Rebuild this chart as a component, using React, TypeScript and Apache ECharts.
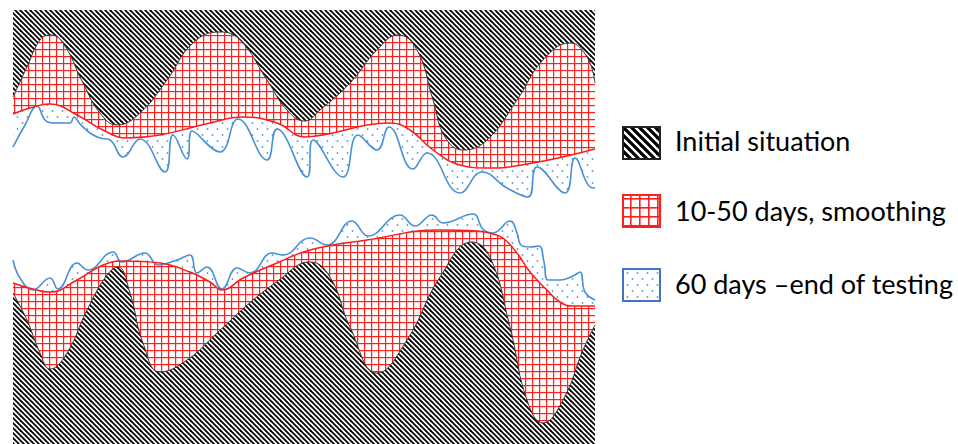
import * as echarts from 'echarts';
import { useEffect, useRef } from 'react';

const legendLabels = ['Initial situation', '10-50 days, smoothing', '60 days \u2013end of testing'];

// profiles as [position along the sample, depth from the upper edge]
const upperInitial = [
  [13, 97], [27, 67], [40, 40], [50, 35], [63, 43], [83, 83], [100, 113], [117, 125], [140, 113],
  [167, 80], [193, 43], [220, 32], [240, 40], [267, 80], [287, 110], [305, 121], [320, 110],
  [350, 83], [377, 50], [398, 35], [417, 50], [433, 100], [445, 137], [463, 150], [487, 140],
  [517, 100], [543, 60], [570, 43], [587, 57], [595, 83],
];
const upperSmoothed = [
  [13, 114], [30, 108], [50, 104], [77, 115], [103, 130], [127, 138], [160, 135], [210, 123],
  [243, 117], [277, 123], [305, 137], [333, 133], [367, 125], [390, 123], [410, 130], [433, 150],
  [460, 165], [487, 168], [533, 163], [595, 149],
];
const upperEnd = [
  [13, 147], [25, 125], [37, 106], [45, 120], [53, 123], [70, 123], [74, 117], [80, 124], [90, 133],
  [100, 138], [110, 140], [123, 157], [140, 139], [165, 172], [173, 135], [187, 159], [192, 131],
  [220, 152], [238, 119], [267, 160], [277, 129], [307, 177], [313, 140], [343, 177], [358, 135],
  [377, 150], [389, 127], [413, 169], [427, 153], [460, 193], [482, 172], [507, 188], [528, 197],
  [537, 167], [565, 193], [575, 158], [590, 187], [595, 188],
];

const lowerInitial = [
  [13, 293], [27, 320], [40, 353], [50, 369], [67, 353], [87, 310], [107, 275], [118, 267],
  [130, 293], [143, 343], [160, 372], [187, 360], [217, 333], [253, 300], [283, 277], [300, 264],
  [310, 262], [330, 277], [350, 327], [377, 373], [407, 340], [440, 277], [472, 242], [490, 257],
  [510, 327], [527, 400], [543, 423], [563, 400], [583, 350], [595, 325],
];
const lowerSmoothed = [
  [13, 283], [33, 289], [50, 292], [77, 280], [103, 265], [123, 261], [160, 263], [190, 272],
  [210, 282], [222, 290], [243, 278], [277, 263], [310, 250], [367, 240], [440, 230], [477, 231],
  [493, 234], [503, 238], [517, 253], [530, 272], [547, 290], [560, 302], [573, 306], [595, 306],
];
const lowerEnd = [
  [13, 260], [20, 278], [33, 290], [50, 278], [58, 289], [77, 263], [88, 270], [113, 252],
  [122, 262], [145, 253], [158, 265], [177, 260], [190, 255], [197, 273], [207, 267], [222, 289],
  [237, 268], [250, 273], [272, 253], [283, 255], [310, 238], [327, 245], [352, 221], [368, 236],
  [400, 215], [415, 226], [432, 215], [443, 223], [473, 214], [483, 229], [493, 233], [510, 221],
  [517, 233], [521, 245], [530, 247], [539, 246], [544, 262], [548, 280], [560, 280], [573, 276],
  [580, 272], [585, 292], [595, 300],
];

function tile(w: number, h: number, draw: (ctx: CanvasRenderingContext2D) => void) {
  const c = document.createElement('canvas');
  c.width = w;
  c.height = h;
  const ctx = c.getContext('2d')!;
  ctx.fillStyle = '#fff';
  ctx.fillRect(0, 0, w, h);
  draw(ctx);
  return { image: c, repeat: 'repeat', imageWidth: w, imageHeight: h };
}

function hatch(period: number, lw: number) {
  const s = period * 2;
  return tile(s, s, (ctx) => {
    ctx.strokeStyle = '#000';
    ctx.lineWidth = lw;
    for (let k = -3; k <= 3; k++) {
      const c = k * period;
      ctx.beginPath();
      ctx.moveTo(-3, -3 + c);
      ctx.lineTo(s + 3, s + 3 + c);
      ctx.stroke();
    }
  });
}

function grid(cell: number, lw: number) {
  return tile(cell, cell, (ctx) => {
    ctx.fillStyle = '#ff1f1f';
    ctx.fillRect(0, 0, lw, cell);
    ctx.fillRect(0, 0, cell, lw);
  });
}

function dots(w: number, h: number, r: number) {
  return tile(w, h, (ctx) => {
    ctx.fillStyle = '#5b9bd5';
    [[w * 0.25, h * 0.25], [w * 0.75, h * 0.75]].forEach(([x, y]) => {
      ctx.beginPath();
      ctx.arc(x, y, r, 0, Math.PI * 2);
      ctx.fill();
    });
  });
}

export default function App() {
  const elRef = useRef<HTMLDivElement | null>(null);

  useEffect(() => {
    if (!elRef.current) return;
    const chart = echarts.init(elRef.current, undefined, { renderer: 'svg' });

    const black = hatch(5, 1.8);
    const red = grid(7, 1.2);
    const blue = dots(10, 12, 0.9);

    const band = (data: number[][], fill: any, line: string, width: number, origin: string) => ({
      type: 'line',
      data,
      smooth: 0.45,
      symbol: 'none',
      silent: true,
      lineStyle: { color: line, width },
      areaStyle: { color: fill, opacity: 1, origin },
    });

    const iconTop = [127, 195, 269];
    const textY = [140, 210, 283];
    const iconFill = [hatch(8, 3.2), grid(9, 1.6), dots(10, 12, 0.9)];
    const iconStroke = ['#222', '#ff1f1f', '#4472c4'];

    chart.setOption({
      animation: false,
      grid: { left: 13, top: 10, width: 582, height: 434 },
      xAxis: { type: 'value', min: 13, max: 595, show: false },
      yAxis: { type: 'value', min: 10, max: 444, inverse: true, show: false },
      series: [
        band(upperEnd, blue, '#4a90d6', 1.6, 'start'),
        band(upperSmoothed, red, '#ff1a1a', 1.5, 'start'),
        band(upperInitial, black, '#3a3a3a', 1, 'start'),
        band(lowerEnd, blue, '#4a90d6', 1.6, 'end'),
        band(lowerSmoothed, red, '#ff1a1a', 1.5, 'end'),
        band(lowerInitial, black, '#3a3a3a', 1, 'end'),
      ],
      graphic: legendLabels.map((label, i) => ({
        type: 'group',
        children: [
          {
            type: 'rect',
            shape: { x: 623, y: iconTop[i], width: 37, height: 32 },
            style: { fill: iconFill[i], stroke: iconStroke[i], lineWidth: 2 },
          },
          {
            type: 'text',
            x: 675,
            y: textY[i],
            style: {
              text: label,
              fill: '#000',
              fontSize: 27,
              fontFamily: 'Lato, "Open Sans", sans-serif',
              verticalAlign: 'middle',
            },
          },
        ],
      })),
    });

    return () => chart.dispose();
  }, []);

  return <div ref={elRef} style={{ position: 'absolute', left: 0, top: 0, width: 958, height: 444 }} />;
}
